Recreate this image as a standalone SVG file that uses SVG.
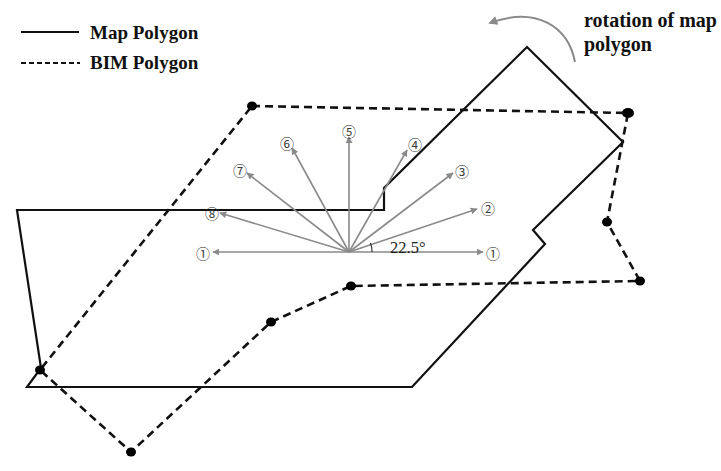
<svg xmlns="http://www.w3.org/2000/svg" width="721" height="471" viewBox="0 0 721 471">
<style>
.map{fill:none;stroke:#111;stroke-width:2.2;stroke-linejoin:miter}
.bim{fill:none;stroke:#111;stroke-width:2.6;stroke-dasharray:8,5}
.dot{fill:#000}
.ray{stroke:#8a8a8a;stroke-width:1.6;fill:none}
.lbl{font-family:"Liberation Serif",serif;font-weight:bold;font-size:19px;fill:#111}
.num{font-family:"Noto Sans CJK JP","DejaVu Sans",sans-serif;font-size:14px;fill:#3a3a3a;text-anchor:middle;dominant-baseline:central}
</style>
<defs>
<marker id="ah" viewBox="0 0 10 10" refX="9" refY="5" markerWidth="7" markerHeight="7" markerUnits="userSpaceOnUse" orient="auto">
<path d="M0,0 L10,5 L0,10 z" fill="#8a8a8a"/>
</marker>
<marker id="ah2" viewBox="0 0 10 10" refX="8" refY="5" markerWidth="11" markerHeight="9" markerUnits="userSpaceOnUse" orient="auto">
<path d="M0,0 L10,5 L0,10 z" fill="#8a8a8a"/>
</marker>
</defs>
<g id="legend">
<line x1="21" y1="32" x2="79" y2="32" stroke="#111" stroke-width="2.2"/>
<text class="lbl" x="90" y="39">Map Polygon</text>
<line x1="21" y1="63" x2="80" y2="63" stroke="#111" stroke-width="2.2" stroke-dasharray="5,3"/>
<text class="lbl" x="90" y="69">BIM Polygon</text>
</g>
<g id="rotation">
<path d="M575,62 C568,26 536,6 490,23" stroke="#8a8a8a" stroke-width="2" fill="none" marker-end="url(#ah2)"/>
<text class="lbl" x="584" y="27" font-size="20" style="font-size:20px">rotation of map</text>
<text class="lbl" x="584" y="51" style="font-size:20px">polygon</text>
</g>
<g id="map-polygon">
<polygon class="map" points="17,210 384,210 384,188 527,47 623,142 533,230 545,244 412,387 27,387 41,368"/>
</g>
<g id="bim-polygon">
<polygon class="bim" points="252,106 628,113 607,222 640,281 351,286 271,322 131,452 40,370"/>
<ellipse class="dot" cx="252" cy="106" rx="5" ry="4.5"/>
<ellipse class="dot" cx="628" cy="113" rx="6" ry="5"/>
<ellipse class="dot" cx="607" cy="222" rx="5" ry="4.5"/>
<ellipse class="dot" cx="640" cy="281" rx="5" ry="4.5"/>
<ellipse class="dot" cx="351" cy="286" rx="5" ry="4.5"/>
<ellipse class="dot" cx="271" cy="322" rx="5" ry="4.5"/>
<ellipse class="dot" cx="131" cy="452" rx="5" ry="4.5"/>
<ellipse class="dot" cx="40" cy="370" rx="5" ry="4.5"/>
</g>
<g id="connectors">
<line class="ray" x1="349" y1="252" x2="483" y2="252" marker-end="url(#ah)"/>
<line class="ray" x1="349" y1="252" x2="213" y2="252" marker-end="url(#ah)"/>
<line class="ray" x1="349" y1="252" x2="477" y2="209" marker-end="url(#ah)"/>
<line class="ray" x1="349" y1="252" x2="453" y2="173" marker-end="url(#ah)"/>
<line class="ray" x1="349" y1="252" x2="407" y2="150" marker-end="url(#ah)"/>
<line class="ray" x1="349" y1="252" x2="349" y2="137" marker-end="url(#ah)"/>
<line class="ray" x1="349" y1="252" x2="292" y2="148" marker-end="url(#ah)"/>
<line class="ray" x1="349" y1="252" x2="247" y2="173" marker-end="url(#ah)"/>
<line class="ray" x1="349" y1="252" x2="220" y2="213" marker-end="url(#ah)"/>
<path d="M372,252 A23,23 0 0,0 370.5,243" stroke="#333" stroke-width="1.2" fill="none"/>
</g>
<g id="labels">
<text class="num" x="493" y="253">①</text>
<text class="num" x="203" y="253">①</text>
<text class="num" x="488" y="208">②</text>
<text class="num" x="462" y="171">③</text>
<text class="num" x="415" y="144">④</text>
<text class="num" x="349" y="131">⑤</text>
<text class="num" x="287" y="143">⑥</text>
<text class="num" x="240" y="170">⑦</text>
<text class="num" x="212" y="213">⑧</text>
<text x="390" y="253" font-family="Liberation Serif,serif" font-size="16.5" fill="#222">22.5°</text>
</g>
</svg>
